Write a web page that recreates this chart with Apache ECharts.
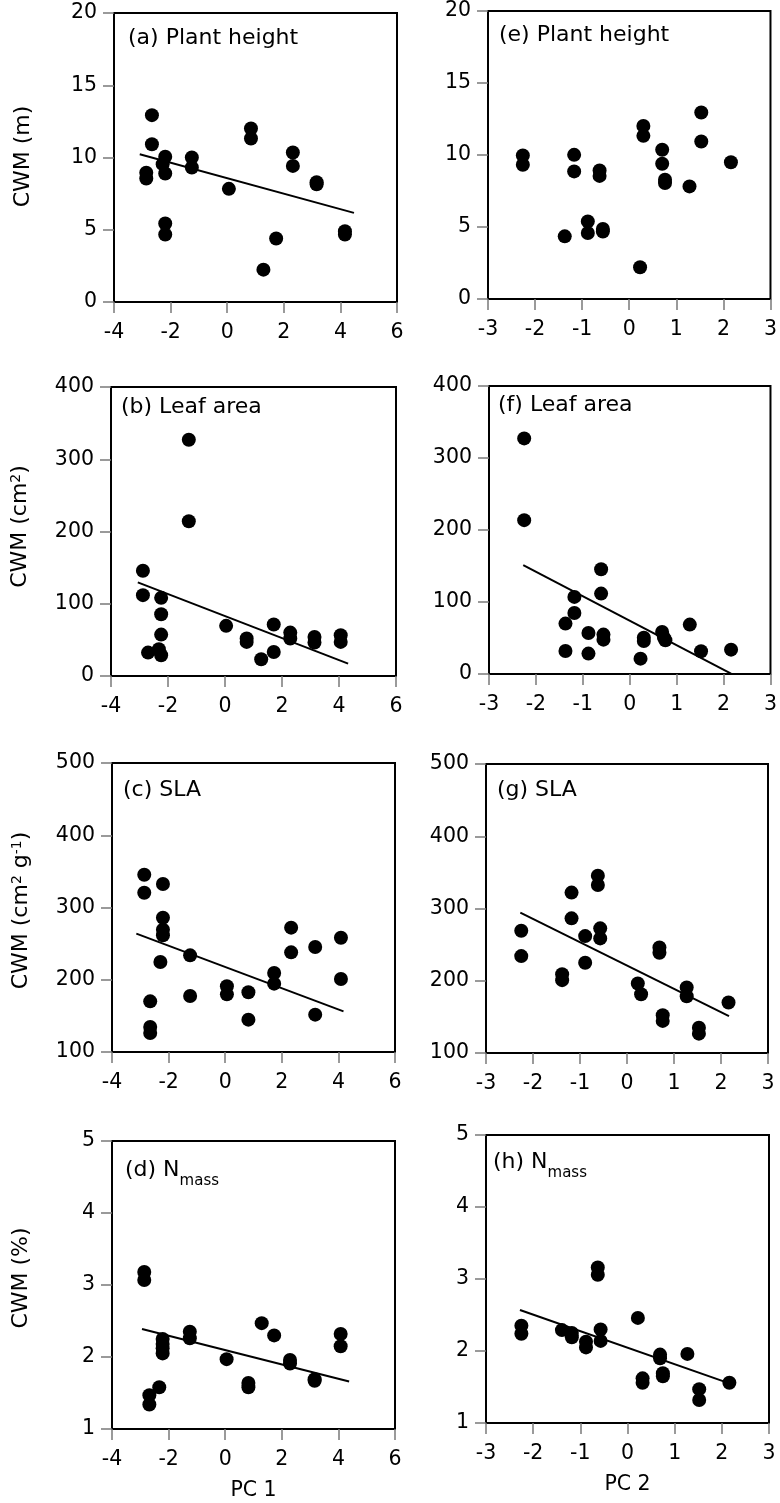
<!DOCTYPE html>
<html>
<head>
<meta charset="utf-8">
<script src="https://cdn.jsdelivr.net/npm/echarts@6.0.0/dist/echarts.min.js"></script>
<style>
html,body{margin:0;padding:0;background:#fff;}
#chart{width:780px;height:1503px;}
</style>
</head>
<body>
<div id="chart"></div>
<script>
// ---- tick labels ----
const pc1Ticks = [-4, -2, 0, 2, 4, 6];
const pc2Ticks = [-3, -2, -1, 0, 1, 2, 3];
const heightTicks = [0, 5, 10, 15, 20];
const leafAreaTicks = [0, 100, 200, 300, 400];
const slaTicks = [100, 200, 300, 400, 500];
const nmassTicks = [1, 2, 3, 4, 5];

// ---- data: [PC score, CWM] ----
const heightVsPC1 = [[-2.66,12.93],[-2.66,10.92],[-2.86,8.94],[-2.86,8.55],[-2.28,9.54],[-2.19,10.05],[-2.19,8.89],[-2.19,5.43],[-2.19,4.67],[-1.25,10.0],[-1.25,9.31],[0.06,7.83],[0.84,12.01],[0.84,11.32],[2.32,10.35],[2.32,9.42],[3.16,8.29],[3.16,8.15],[1.73,4.39],[1.28,2.24],[4.16,4.9],[4.16,4.67]];
const leafAreaVsPC1 = [[-2.88,145.7],[-2.88,111.9],[-2.7,32.4],[-2.32,37.0],[-2.24,108.2],[-2.24,85.5],[-2.24,57.3],[-2.24,28.7],[-1.27,326.9],[-1.27,214.1],[0.04,69.4],[0.76,51.8],[0.76,47.2],[1.27,23.1],[1.71,71.2],[1.71,33.3],[2.29,60.1],[2.29,51.8],[3.14,54.1],[3.14,46.2],[4.06,56.4],[4.06,47.2]];
const slaVsPC1 = [[-2.86,345.4],[-2.86,320.5],[-2.65,170.1],[-2.65,134.6],[-2.65,126.3],[-2.29,224.6],[-2.2,332.5],[-2.2,285.9],[-2.2,269.3],[-2.2,261.5],[-1.24,233.8],[-1.24,177.5],[0.06,190.9],[0.06,179.8],[0.82,182.6],[0.82,144.8],[1.73,209.3],[1.73,194.6],[2.33,272.1],[2.33,237.9],[3.18,245.3],[3.18,151.7],[4.09,258.2],[4.09,201.0]];
const nmassVsPC1 = [[-2.86,3.18],[-2.86,3.07],[-2.68,1.47],[-2.68,1.34],[-2.33,1.58],[-2.21,2.25],[-2.21,2.18],[-2.21,2.12],[-2.21,2.05],[-1.25,2.35],[-1.25,2.26],[0.05,1.97],[0.82,1.64],[0.82,1.58],[1.29,2.47],[1.73,2.30],[2.29,1.96],[2.29,1.91],[3.16,1.69],[3.16,1.67],[4.08,2.32],[4.08,2.15]];

const heightVsPC2 = [[-2.26,9.97],[-2.26,9.32],[-1.17,10.01],[-1.17,8.86],[-0.63,8.92],[-0.63,8.55],[-1.37,4.35],[-0.88,5.39],[-0.88,4.58],[-0.56,4.86],[-0.56,4.69],[0.23,2.20],[0.30,12.02],[0.30,11.33],[0.70,10.36],[0.70,9.39],[0.76,8.28],[0.76,8.05],[1.28,7.82],[1.53,12.95],[1.53,10.94],[2.16,9.50]];
const leafAreaVsPC2 = [[-2.25,327.2],[-2.25,213.7],[-1.18,107.1],[-1.18,84.8],[-1.37,70.0],[-1.37,32.0],[-0.88,57.0],[-0.88,28.3],[-0.61,145.5],[-0.61,111.7],[-0.56,54.7],[-0.56,47.7],[0.23,21.3],[0.30,50.5],[0.30,45.9],[0.69,58.4],[0.73,50.5],[0.76,46.8],[1.28,68.6],[1.52,31.5],[2.16,33.8]];
const slaVsPC2 = [[-2.25,269.2],[-2.25,234.1],[-1.38,209.1],[-1.38,200.8],[-1.18,322.0],[-1.18,286.4],[-0.89,261.8],[-0.89,224.9],[-0.62,345.5],[-0.62,332.6],[-0.57,272.5],[-0.57,258.6],[0.23,196.2],[0.30,181.4],[0.69,246.1],[0.69,238.7],[0.76,152.3],[0.76,144.4],[1.27,190.6],[1.27,178.6],[1.53,135.1],[1.53,126.8],[2.16,169.8]];
const nmassVsPC2 = [[-2.25,2.35],[-2.25,2.24],[-1.39,2.29],[-1.18,2.25],[-1.18,2.19],[-0.88,2.13],[-0.88,2.05],[-0.63,3.16],[-0.63,3.06],[-0.57,2.30],[-0.57,2.14],[0.22,2.46],[0.32,1.62],[0.32,1.56],[0.69,1.95],[0.69,1.90],[0.75,1.69],[0.75,1.65],[1.27,1.96],[1.52,1.47],[1.52,1.32],[2.16,1.56]];

// ---- fitted regression lines (end points) ----
const fitHeightPC1 = [[-3.09,10.23],[4.48,6.17]];
const fitLeafAreaPC1 = [[-3.06,129.5],[4.32,17.1]];
const fitSlaPC1 = [[-3.14,263.8],[4.18,156.3]];
const fitNmassPC1 = [[-2.94,2.39],[4.38,1.66]];
const fitLeafAreaPC2 = [[-2.27,151.1],[2.16,0.5]];
const fitSlaPC2 = [[-2.27,294.2],[2.17,150.9]];
const fitNmassPC2 = [[-2.28,2.57],[2.16,1.55]];

// ---- panel layout ----
const FONT = 'DejaVu Sans';
const panels = [
  {box:[114,13,283,289], xTicks:pc1Ticks, yTicks:heightTicks, points:heightVsPC1, fit:fitHeightPC1, title:'{m|(a) Plant height}', tpos:[128,27], yName:'CWM (m)', yPad:[0,0,0,2]},
  {box:[488,11,283,288], xTicks:pc2Ticks, yTicks:heightTicks, points:heightVsPC2, fit:null, title:'{m|(e) Plant height}', tpos:[499,24]},
  {box:[111,387,285,289], xTicks:pc1Ticks, yTicks:leafAreaTicks, points:leafAreaVsPC1, fit:fitLeafAreaPC1, title:'{m|(b) Leaf area}', tpos:[121,396], yName:'CWM (cm{s|2})', yPad:[0,0,0,10]},
  {box:[489,386,283,288], xTicks:pc2Ticks, yTicks:leafAreaTicks, points:leafAreaVsPC2, fit:fitLeafAreaPC2, title:'{m|(f) Leaf area}', tpos:[498,394]},
  {box:[112,763,283,289], xTicks:pc1Ticks, yTicks:slaTicks, points:slaVsPC1, fit:fitSlaPC1, title:'{m|(c) SLA}', tpos:[123,779], yName:'CWM (cm{s|2} g{s|-1})', yPad:[0,6,0,0]},
  {box:[486,764,282,289], xTicks:pc2Ticks, yTicks:slaTicks, points:slaVsPC2, fit:fitSlaPC2, title:'{m|(g) SLA}', tpos:[497,779]},
  {box:[112,1141,283,288], xTicks:pc1Ticks, yTicks:nmassTicks, points:nmassVsPC1, fit:fitNmassPC1, title:'{m|(d) N}{b|mass}', tpos:[125,1159], yName:'CWM (%)', yPad:[0,0,0,14], xName:'PC 1'},
  {box:[486,1135,283,288], xTicks:pc2Ticks, yTicks:nmassTicks, points:nmassVsPC2, fit:fitNmassPC2, title:'{m|(h) N}{b|mass}', tpos:[493,1151], xName:'PC 2'}
];

const grid = [], xAxis = [], yAxis = [], series = [], graphic = [];
const tickStyle = {show:true, inside:false, length:11, lineStyle:{color:'#7a7a7a', width:1.5}};
const labelStyle = {fontFamily:FONT, fontSize:20.5, color:'#000'};

panels.forEach((p, i) => {
  grid.push({left:p.box[0], top:p.box[1], width:p.box[2], height:p.box[3], show:true, borderColor:'#000', borderWidth:2, backgroundColor:'transparent'});
  const xt = p.xTicks, yt = p.yTicks;
  xAxis.push({
    gridIndex:i, type:'value', min:xt[0], max:xt[xt.length-1], interval:xt[1]-xt[0],
    axisLine:{show:false, onZero:false}, axisTick:tickStyle, splitLine:{show:false},
    axisLabel:Object.assign({margin:20}, labelStyle),
    name:p.xName || '', nameLocation:'middle', nameGap:51,
    nameTextStyle:{fontFamily:FONT, fontSize:20.5, color:'#000'}
  });
  yAxis.push({
    gridIndex:i, type:'value', min:yt[0], max:yt[yt.length-1], interval:yt[1]-yt[0],
    axisLine:{show:false, onZero:false}, axisTick:tickStyle, splitLine:{show:false},
    axisLabel:Object.assign({margin:17}, labelStyle),
    name:p.yName || '', nameLocation:'middle', nameGap:80,
    nameTextStyle:{fontFamily:FONT, fontSize:22, lineHeight:22, color:'#000', padding:p.yPad || 0,
      rich:{s:{fontFamily:FONT, fontSize:14, lineHeight:14, verticalAlign:'top', color:'#000'}}}
  });
  series.push({type:'scatter', xAxisIndex:i, yAxisIndex:i, data:p.points, symbol:'circle', symbolSize:14, itemStyle:{color:'#000', opacity:1}, silent:true, z:3});
  if (p.fit) {
    series.push({type:'line', xAxisIndex:i, yAxisIndex:i, data:p.fit, symbol:'none', showSymbol:false, lineStyle:{color:'#000', width:2}, silent:true, z:2});
  }
  graphic.push({
    type:'text', x:p.tpos[0], y:p.tpos[1], silent:true,
    style:{text:p.title, align:'left', verticalAlign:'top', fill:'#000',
      rich:{
        m:{fontFamily:FONT, fontSize:22, lineHeight:22, verticalAlign:'top', color:'#000'},
        b:{fontFamily:FONT, fontSize:15, lineHeight:44, verticalAlign:'middle', color:'#000'}
      }}
  });
});

const chart = echarts.init(document.getElementById('chart'), null, {renderer:'canvas'});
chart.setOption({
  animation:false,
  backgroundColor:'#fff',
  grid, xAxis, yAxis, series, graphic
});
</script>
</body>
</html>
